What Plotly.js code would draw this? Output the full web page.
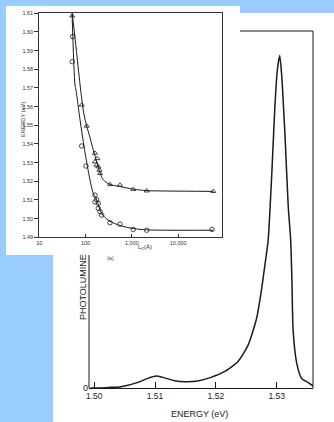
<!DOCTYPE html>
<html><head><meta charset="utf-8">
<script src="https://cdn.plot.ly/plotly-3.0.1.min.js"></script>
<style>html,body{margin:0;padding:0;background:#99ccff;}#chart{width:334px;height:422px;}</style>
</head><body><div id="chart"></div>
<script>
// ---- main spectrum (energy eV, relative PL intensity) ----
const energy = [1.4994,1.5006,1.5026,1.5044,1.5072,1.5088,1.5102,1.5113,1.5132,1.5151,1.5170,1.5192,1.5214,1.5236,1.5253,1.5267,1.5275,1.5281,1.5286,1.5292,1.5297,1.5301,1.5305,1.5308,1.5314,1.5319,1.5323,1.5325,1.5327,1.5333,1.5341,1.5352,1.5360];
const intensity = [0.000,0.000,0.002,0.004,0.017,0.029,0.036,0.032,0.022,0.019,0.021,0.032,0.049,0.079,0.129,0.210,0.295,0.375,0.445,0.646,0.846,0.956,1.000,0.946,0.746,0.545,0.445,0.325,0.174,0.074,0.029,0.016,0.006];
const mainXTicks = [1.50,1.51,1.52,1.53];
const mainXTickText = ['1.50','1.51','1.52','1.53'];

// ---- inset: energy vs well width Lz (Å) ----
const upperLz = [51.6,82.4,105.6,159.6,178.9,159.6,171.9,188.1,199.5,204.6,336.5,553,1071,2089,57300];
const upperE  = [1.6087,1.5609,1.5496,1.5351,1.5322,1.5305,1.5287,1.5278,1.5260,1.5242,1.5183,1.5180,1.5157,1.5149,1.5146];
const lowerLz = [52.6,51.6,82.4,102,159.6,173.6,159.6,188.1,188.1,204.6,222.7,336.5,553,1071,2089,53700];
const lowerE  = [1.5975,1.5841,1.5389,1.5282,1.5126,1.5101,1.5090,1.5082,1.5055,1.5037,1.5019,1.4978,1.4971,1.4942,1.4938,1.4942];
const upperFitLz = [51.5,63.6,78.3,92,105.6,125,146.6,175,204.6,241,336.5,553,1071,2089,5534,57300];
const upperFitE  = [1.6100,1.5895,1.5689,1.5560,1.5496,1.5433,1.5367,1.5302,1.5245,1.5208,1.5183,1.5172,1.5158,1.5150,1.5148,1.5146];
const lowerFitLz = [51.0,59,62,76,95,124.5,146.6,175,205,240,336,553,1071,2089,5534,57300];
const lowerFitE  = [1.6100,1.5716,1.5689,1.5528,1.5370,1.5207,1.5135,1.5100,1.5045,1.5016,1.4986,1.4963,1.4947,1.4940,1.4938,1.4938];
const insetXTicks = [10,100,1000,10000];
const insetXTickText = ['10','100','1,000','10,000'];
const insetYTicks = [1.49,1.50,1.51,1.52,1.53,1.54,1.55,1.56,1.57,1.58,1.59,1.60,1.61];

const W = 334, H = 422;
const fx = p => p / W;
const fy = p => 1 - p / H;
const INK = '#1a1a1a';
const FONT = 'Liberation Sans, Arial, sans-serif';

const traces = [
  {x: energy, y: intensity, xaxis: 'x', yaxis: 'y', mode: 'lines',
   line: {color: INK, width: 1.5, shape: 'spline', smoothing: 0.6}, hoverinfo: 'skip'},
  {x: upperFitLz, y: upperFitE, xaxis: 'x2', yaxis: 'y2', mode: 'lines',
   line: {color: INK, width: 1, shape: 'spline', smoothing: 0.8}, hoverinfo: 'skip'},
  {x: lowerFitLz, y: lowerFitE, xaxis: 'x2', yaxis: 'y2', mode: 'lines',
   line: {color: INK, width: 1, shape: 'spline', smoothing: 0.8}, hoverinfo: 'skip'},
  {x: upperLz, y: upperE, xaxis: 'x2', yaxis: 'y2', mode: 'markers',
   marker: {symbol: 'triangle-up-open', size: 4.5, color: INK, line: {width: 0.8}}, hoverinfo: 'skip'},
  {x: lowerLz, y: lowerE, xaxis: 'x2', yaxis: 'y2', mode: 'markers',
   marker: {symbol: 'circle-open', size: 4.5, color: INK, line: {width: 0.8}}, hoverinfo: 'skip'}
];

const lineShape = (x0, y0, x1, y1) => ({type: 'line', xref: 'paper', yref: 'paper', x0: x0, y0: y0, x1: x1, y1: y1,
  line: {color: INK, width: 1}, layer: 'above'});

const layout = {
  width: W, height: H,
  margin: {l: 0, r: 0, t: 0, b: 0},
  paper_bgcolor: '#99ccff',
  plot_bgcolor: 'rgba(0,0,0,0)',
  showlegend: false,
  font: {family: FONT, color: INK},
  xaxis: {domain: [fx(89), fx(313)], range: [1.49914, 1.53597], anchor: 'y',
    tickvals: mainXTicks, ticktext: mainXTickText, ticks: 'inside', ticklen: 6, tickcolor: INK,
    showline: true, linecolor: INK, linewidth: 1, mirror: false, showgrid: false, zeroline: false,
    tickfont: {size: 8.5, family: FONT, color: INK}},
  yaxis: {domain: [fy(388), fy(31)], range: [0, 1.074], anchor: 'x',
    tickvals: [0], ticktext: ['0'], ticks: '', showline: false, showgrid: false, zeroline: false,
    tickfont: {size: 9, family: FONT, color: INK}},
  xaxis2: {type: 'log', domain: [fx(39.3), fx(221.7)], range: [1, 4.94], anchor: 'y2',
    tickvals: insetXTicks, ticktext: insetXTickText, ticks: 'inside', ticklen: 3, tickcolor: '#333',
    showline: true, mirror: true, linecolor: '#333', linewidth: 1, showgrid: false, zeroline: false,
    tickfont: {size: 5.5, family: FONT, color: '#333'}},
  yaxis2: {domain: [fy(237.3), fy(13.3)], range: [1.49, 1.61], anchor: 'x2',
    tickvals: insetYTicks, tickformat: '.2f', ticks: 'outside', ticklen: 4, tickcolor: '#333',
    showline: true, mirror: true, linecolor: '#333', linewidth: 1, showgrid: false, zeroline: false,
    tickfont: {size: 5.5, family: FONT, color: '#333'}},
  shapes: [
    {type: 'rect', xref: 'paper', yref: 'paper', x0: fx(53), x1: 1, y0: 0, y1: fy(13),
     fillcolor: '#ffffff', line: {width: 0}, layer: 'below'},
    {type: 'rect', xref: 'paper', yref: 'paper', x0: fx(6), x1: fx(240), y0: fy(255), y1: fy(6),
     fillcolor: '#ffffff', line: {width: 0}, layer: 'below'},
    lineShape(fx(89), fy(388), fx(89), fy(255)),
    lineShape(fx(240), fy(31), fx(313), fy(31)),
    lineShape(fx(313), fy(388), fx(313), fy(31))
  ],
  annotations: [
    {text: 'PHOTOLUMINE', xref: 'paper', yref: 'paper', x: fx(83), y: fy(287), textangle: -90,
     showarrow: false, xanchor: 'center', yanchor: 'middle', font: {size: 9, family: FONT, color: INK}},
    {text: 'ENERGY (eV)', xref: 'paper', yref: 'paper', x: fx(199), y: fy(414),
     showarrow: false, xanchor: 'center', yanchor: 'middle', font: {size: 9, family: FONT, color: INK}},
    {text: 'ENERGY (eV)', xref: 'paper', yref: 'paper', x: fx(23), y: fy(120), textangle: -90,
     showarrow: false, xanchor: 'center', yanchor: 'middle', font: {size: 5.5, family: FONT, color: '#333'}},
    {text: 'L<sub>Z</sub>(Å)', xref: 'paper', yref: 'paper', x: fx(145), y: fy(247),
     showarrow: false, xanchor: 'center', yanchor: 'middle', font: {size: 6, family: FONT, color: '#333'}},
    {text: '(a)', xref: 'paper', yref: 'paper', x: fx(110), y: fy(258),
     showarrow: false, xanchor: 'center', yanchor: 'middle', font: {size: 5.5, family: FONT, color: '#444'}}
  ]
};

Plotly.newPlot('chart', traces, layout, {staticPlot: true, displayModeBar: false});
</script>
</body></html>
